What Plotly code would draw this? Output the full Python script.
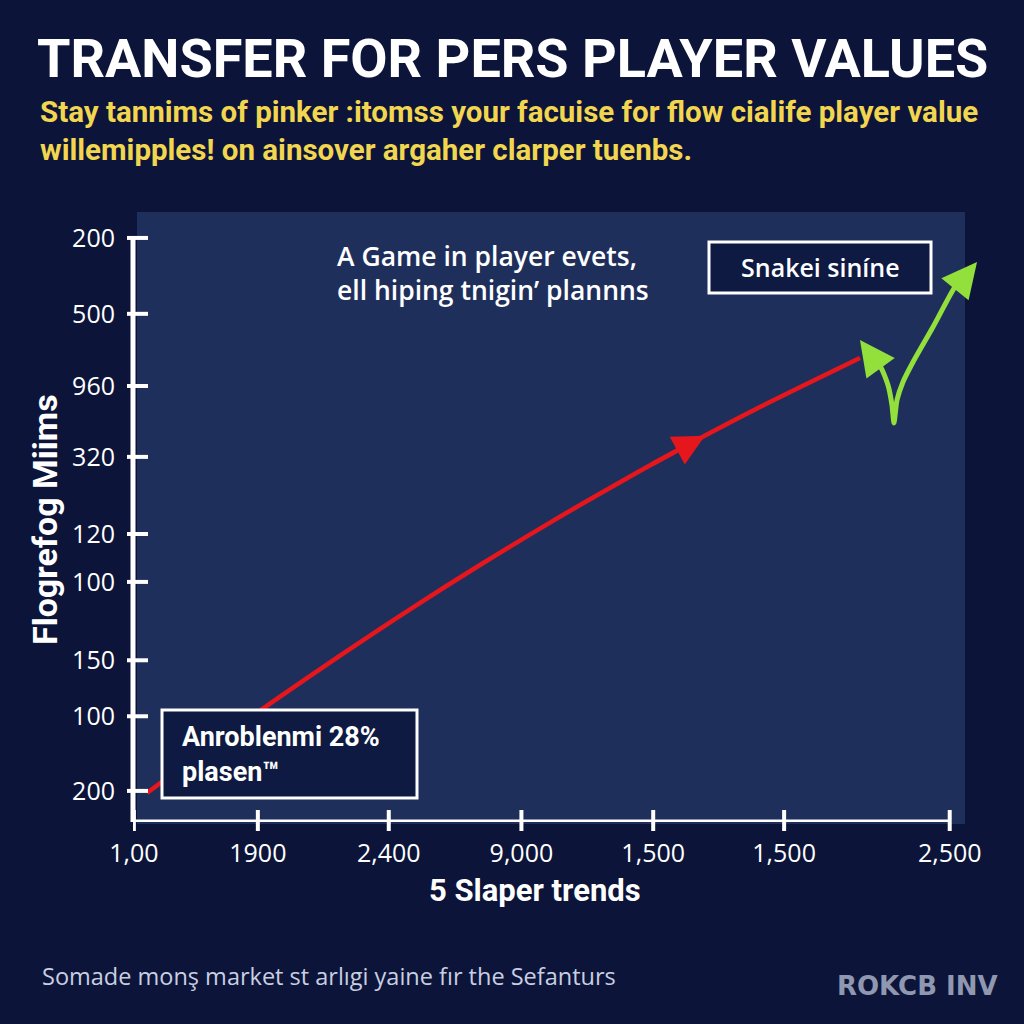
import plotly.graph_objects as go

# ---------------- data ----------------
title_text = "TRANSFER FOR PERS PLAYER VALUES"
subtitle_lines = [
    "Stay tannims of pinker :itomss your facuise for flow cialife player value",
    "willemipples! on ainsover argaher clarper tuenbs.",
]
y_title = "Flogrefog Miims"
x_title = "5 Slaper trends"
footer_text = "Somade monş market st arlıgi yaine fır the Sefanturs"
watermark_text = "ROKCB INV"
note_top = "A Game in player evets,<br>ell hiping tnigin’ plannns"
box_right_text = "Snakei siníne"
box_left_text = "Anroblenmi 28%<br>plasen™"

y_tick_vals = [93.9, 81.7, 70.1, 58.7, 46.3, 38.6, 26.0, 17.0, 5.0]
y_tick_text = ["200", "500", "960", "320", "120", "100", "150", "100", "200"]
x_tick_vals = [0.1, 14.4, 29.5, 44.8, 60.0, 75.1, 94.2]
x_tick_text = ["1,00", "1900", "2,400", "9,000", "1,500", "1,500", "2,500"]

red_x = [1.61, 8.88, 15.80, 23.88, 31.95, 40.02, 48.10, 56.17, 64.36, 72.32, 83.85]
red_y = [4.66, 12.14, 19.02, 26.75, 34.20, 41.32, 48.14, 54.63, 60.92, 66.72, 74.60]
green_x = [84.77, 86.16, 87.08, 87.54, 87.77, 88.12, 88.81, 89.97, 92.27, 94.58, 96.19]
green_y = [74.92, 73.31, 70.26, 67.04, 64.15, 67.85, 70.74, 73.95, 79.58, 85.53, 88.75]

# arrow heads (tip, tail) in data units
red_mid_arrow = ((65.97, 62.11), (59.63, 57.33))
green_start_arrow = ((83.85, 77.49), (85.70, 73.95))
green_end_arrow = ((97.35, 90.03), (95.39, 86.66))

# ---------------- layout helpers ----------------
W = H = 1024
L, R, T, B = 133, 24, 200, 202
PW, PH = W - L - R, H - T - B

def px(x):
    return (x - L) / PW

def py(y):
    return (H - B - y) / PH

BG = "#0c1539"
PLOT_BG = "#1f2f5c"
RED = "#e5161c"
GREEN = "#93e03c"
YELLOW = "#f2d650"
BOLD = "Roboto, Arial, sans-serif"
SANS = "Open Sans, Noto Sans, sans-serif"

fig = go.Figure()

fig.add_trace(go.Scatter(x=red_x, y=red_y, mode="lines",
                         line=dict(color=RED, width=4.5, shape="spline", smoothing=0.8),
                         hoverinfo="skip", showlegend=False))
fig.add_trace(go.Scatter(x=green_x, y=green_y, mode="lines",
                         line=dict(color=GREEN, width=5, shape="spline", smoothing=0.6),
                         hoverinfo="skip", showlegend=False))

shapes = []
# lighter plot panel
shapes.append(dict(type="rect", xref="paper", yref="paper", layer="below",
                   x0=px(137), x1=px(965), y0=py(824), y1=py(212),
                   fillcolor=PLOT_BG, line=dict(width=0)))
# axis lines
shapes.append(dict(type="line", xref="paper", yref="y", layer="above",
                   x0=px(133), x1=px(133), y0=y_tick_vals[0], y1=0,
                   line=dict(color="white", width=5)))
shapes.append(dict(type="line", xref="x", yref="y", layer="above",
                   x0=0, x1=x_tick_vals[-1], y0=0, y1=0,
                   line=dict(color="white", width=5)))
for v in y_tick_vals:
    shapes.append(dict(type="line", xref="paper", yref="y", layer="above",
                       x0=px(127), x1=px(148), y0=v, y1=v,
                       line=dict(color="white", width=4)))
for u in x_tick_vals:
    shapes.append(dict(type="line", xref="x", yref="paper", layer="above",
                       x0=u, x1=u, y0=py(810), y1=py(831),
                       line=dict(color="white", width=4)))
# text boxes
shapes.append(dict(type="rect", xref="paper", yref="paper", layer="above",
                   x0=px(709), x1=px(931), y0=py(293), y1=py(242),
                   fillcolor="#0e1a42", line=dict(color="white", width=3)))
shapes.append(dict(type="rect", xref="paper", yref="paper", layer="above",
                   x0=px(162), x1=px(417), y0=py(798), y1=py(710),
                   fillcolor="#0e1a42", line=dict(color="white", width=3)))

ann = []
def text(x, y, s, size, color="white", family=SANS, xanchor="left",
         yanchor="middle", weight="normal", angle=0, align="left"):
    ann.append(dict(x=px(x), y=py(y), xref="paper", yref="paper", text=s,
                    showarrow=False, xanchor=xanchor, yanchor=yanchor,
                    textangle=angle, align=align,
                    font=dict(size=size, color=color, family=family, weight=weight)))

text(512, 58, "<b>" + title_text + "</b>", 54, family=BOLD, xanchor="center")
text(38, 112, "<b>" + subtitle_lines[0] + "</b>", 29.5, color=YELLOW, family=BOLD)
text(38, 150, "<b>" + subtitle_lines[1] + "</b>", 29.5, color=YELLOW, family=BOLD)
text(45, 520, "<b>" + y_title + "</b>", 34, family=BOLD, xanchor="center", angle=-90)
text(535, 890, "<b>" + x_title + "</b>", 31, family=BOLD, xanchor="center")
text(40, 976, footer_text, 23.5, color="#c9cfe2")
text(1000, 986, "<b>" + watermark_text + "</b>", 26, color="#8f98b0",
     family="DejaVu Sans", xanchor="right")
text(335, 273, note_top, 26.5, weight=600)
text(820, 267, box_right_text, 25, weight=600, xanchor="center")
text(180, 754, box_left_text, 27, family=BOLD, weight="bold")

for (tip, tail), col, w in [(red_mid_arrow, RED, 4.5), (green_start_arrow, GREEN, 5),
                            (green_end_arrow, GREEN, 5)]:
    ann.append(dict(x=tip[0], y=tip[1], ax=tail[0], ay=tail[1], xref="x", yref="y",
                    axref="x", ayref="y", text="", showarrow=True, arrowhead=2,
                    arrowsize=1.4, arrowwidth=w, arrowcolor=col, standoff=0))

fig.update_layout(
    width=W, height=H, margin=dict(l=L, r=R, t=T, b=B),
    paper_bgcolor=BG, plot_bgcolor="rgba(0,0,0,0)",
    shapes=shapes, annotations=ann, showlegend=False,
    xaxis=dict(range=[0, 100], showgrid=False, zeroline=False, showline=False,
               tickvals=x_tick_vals, ticktext=x_tick_text, ticks="outside",
               ticklen=9, tickcolor="rgba(0,0,0,0)",
               tickfont=dict(size=25, color="white", family=SANS)),
    yaxis=dict(range=[0, 100], showgrid=False, zeroline=False, showline=False,
               tickvals=y_tick_vals, ticktext=y_tick_text, ticks="outside",
               ticklen=12, tickcolor="rgba(0,0,0,0)",
               tickfont=dict(size=25, color="white", family=SANS)),
)

fig.write_html("out.html", config={"displayModeBar": False})
